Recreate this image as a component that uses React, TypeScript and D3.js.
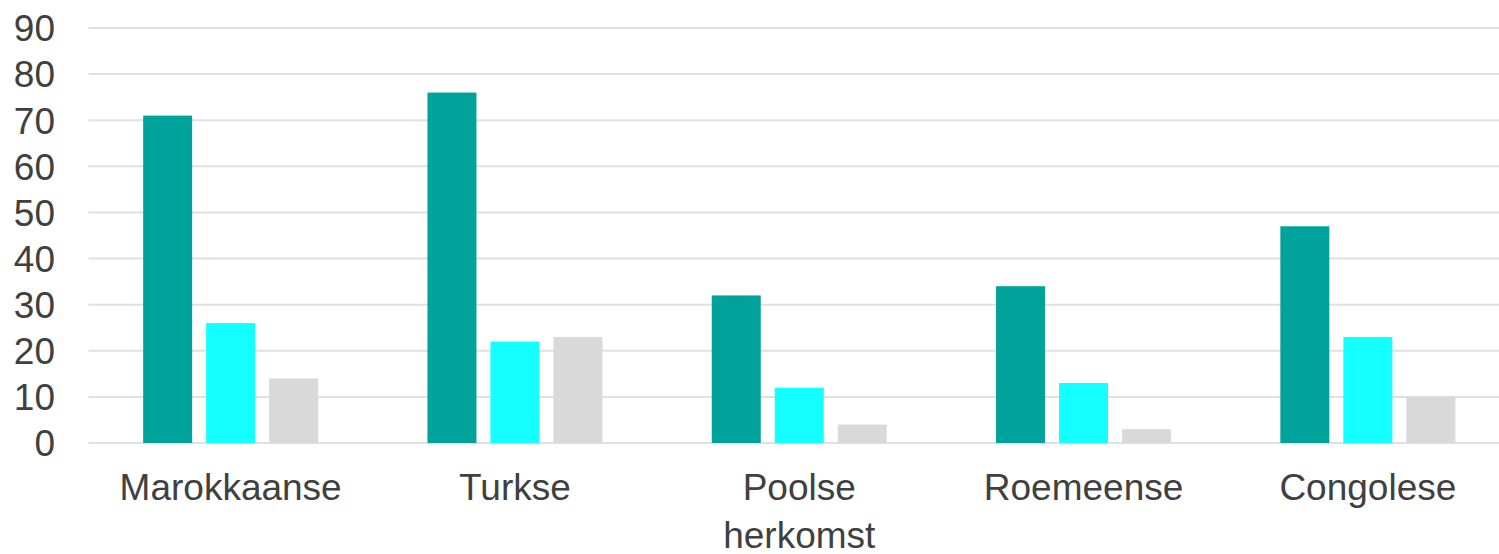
import React from "react";
import * as d3 from "d3";

const categories = ["Marokkaanse", "Turkse", "Poolse", "Roemeense", "Congolese"];
const seriesNames = ["Reeks 1", "Reeks 2", "Reeks 3"];
const series1 = [71, 76, 32, 34, 47];
const series2 = [26, 22, 12, 13, 23];
const series3 = [14, 23, 4, 3, 10];
const yTicks = [0, 10, 20, 30, 40, 50, 60, 70, 80, 90];
const axisTitle = "herkomst";
const colors = ["#00A39B", "#14FFFF", "#D9D9D9"];

export default function App() {
  const W = 1499;
  const H = 554;
  const left = 88.5;
  const right = 1510;
  const top = 28;
  const bottom = 443;
  const x = d3.scaleBand<string>().domain(categories).range([left, right]).paddingInner(0).paddingOuter(0);
  const y = d3.scaleLinear().domain([0, 90]).range([bottom, top]);
  const bw = 49;
  const gap = 14;
  const groupW = bw * 3 + gap * 2;
  const data = [series1, series2, series3];
  const font = "'Liberation Sans', Arial, Helvetica, sans-serif";
  return (
    <svg width={W} height={H} style={{ position: "absolute", left: 0, top: 0 }}>
      <rect width={W} height={H} fill="#fff" />
      {yTicks.map((t) => (
        <g key={t}>
          <line x1={left} x2={W} y1={y(t)} y2={y(t)} stroke="#E0E0E0" strokeWidth={2} />
          <text x={55} y={y(t)} dy="0.36em" textAnchor="end" fontFamily={font} fontSize={37} fill="#404040">
            {t}
          </text>
        </g>
      ))}
      {categories.map((c, i) => {
        const cx = (x(c) as number) + x.bandwidth() / 2;
        const start = cx - groupW / 2;
        return (
          <g key={c}>
            {data.map((s, j) => (
              <rect
                key={seriesNames[j]}
                x={start + j * (bw + gap)}
                y={y(s[i])}
                width={bw}
                height={bottom - y(s[i])}
                fill={colors[j]}
              />
            ))}
            <text x={cx} y={500} textAnchor="middle" fontFamily={font} fontSize={37} fill="#404040">
              {c}
            </text>
          </g>
        );
      })}
      <text x={(x("Poolse") as number) + x.bandwidth() / 2} y={548} textAnchor="middle" fontFamily={font} fontSize={37} fill="#404040">
        {axisTitle}
      </text>
    </svg>
  );
}
